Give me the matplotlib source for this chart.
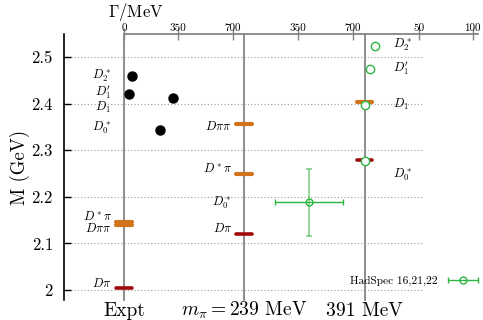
import numpy as np
import matplotlib
matplotlib.use("Agg")
import matplotlib.pyplot as plt
from matplotlib.legend_handler import HandlerErrorbar

plt.rcParams['font.family'] = 'serif'
plt.rcParams['font.serif'] = ['cmr10']
plt.rcParams['mathtext.fontset'] = 'cm'
plt.rcParams['axes.formatter.use_mathtext'] = True

# experiment: widths (MeV) and masses (GeV)
expt_names = ['D2*', 'D1(2420)', 'D1(2430)', 'D0*']
expt_width = [49, 32, 313, 229]
expt_mass = [2.460, 2.421, 2.411, 2.343]

# thresholds (GeV) per panel: (mass, kind)
thr_expt = [(2.004, 'dpi'), (2.140, 'dstpi'), (2.145, 'dstpi')]
thr_239 = [(2.1195, 'dpi'), (2.248, 'dstpi'), (2.357, 'dstpi')]
thr_391 = [(2.278, 'dpi'), (2.403, 'dstpi')]

# mpi = 239 MeV, D0* pole
d0_239_width = 420
d0_239_width_err = 220
d0_239_mass = 2.188
d0_239_mass_err = 0.072

# mpi = 391 MeV, bound states
l391_width = [10, 5.5, 0, 0]
l391_mass = [2.5236, 2.474, 2.397, 2.2768]

yticks = [2.0, 2.1, 2.2, 2.3, 2.4, 2.5]
ytick_labels = ['2', '2.1', '2.2', '2.3', '2.4', '2.5']

ORANGE = '#d2721a'
DARKRED = '#a00a0a'
GREEN = '#2db53f'
GRAY = '#858585'

W, H = 483, 320


def px(x0, y0, x1, y1):
    return [x0 / W, 1 - y1 / H, (x1 - x0) / W, (y1 - y0) / H]


fig = plt.figure(figsize=(W / 100, H / 100), dpi=100)
ylim = (2.0 - 10 / 466, 2.5 + 23 / 466)

main = fig.add_axes(px(64, 34, 423, 300))
main.set_ylim(*ylim)
main.set_xlim(0, 1)
for s in ['top', 'right', 'bottom']:
    main.spines[s].set_visible(False)
main.spines['left'].set_linewidth(1.2)
main.set_xticks([])
main.set_yticks(yticks)
main.set_yticklabels(ytick_labels)
main.tick_params(axis='y', direction='in', length=5, width=1, labelsize=12, pad=8)
main.yaxis.grid(True, ls=(0, (1, 2)), color='#999999', lw=0.8)
main.set_ylabel('M (GeV)', fontsize=13.5, labelpad=1)

# panels: left px, width px, xmax (MeV), ticks
panels = [
    (124, 120, 120 / 54.3 * 350, [0, 350, 700]),
    (244, 120, 120 / 54.3 * 350, [350, 700]),
    (364.5, 113, 113 / 54 * 50, [50, 100]),
]
axs = []
for x0, w, xmax, ticks in panels:
    ax = fig.add_axes(px(x0, 34, x0 + w, 300))
    ax.patch.set_visible(False)
    ax.set_xlim(0, xmax)
    ax.set_ylim(*ylim)
    ax.yaxis.set_visible(False)
    for s in ['right', 'bottom']:
        ax.spines[s].set_visible(False)
    for s in ['left', 'top']:
        ax.spines[s].set_color(GRAY)
        ax.spines[s].set_linewidth(1.3)
    ax.xaxis.tick_top()
    ax.set_xticks(ticks)
    ax.set_xticklabels([str(t) for t in ticks])
    ax.tick_params(axis='x', direction='inout', length=8, width=1, color=GRAY,
                   labelsize=8, pad=-3)
    axs.append(ax)


def draw_thr(ax, thr, half):
    for m, kind in thr:
        col = DARKRED if kind == 'dpi' else ORANGE
        lw = 2.6 if kind == 'dpi' else 3.0
        ax.plot([-half, half], [m, m], color=col, lw=lw, solid_capstyle='round',
                clip_on=False, zorder=3)


draw_thr(axs[0], thr_expt, 52)
draw_thr(axs[1], thr_239, 52)
draw_thr(axs[2], thr_391, 7.4)

axs[0].plot(expt_width, expt_mass, 'o', color='black', ms=6.5, zorder=4, clip_on=False)

eb = axs[1].errorbar([d0_239_width], [d0_239_mass], xerr=[d0_239_width_err],
                     fmt='o', mfc='none', mec=GREEN, color=GREEN, ms=5, mew=1,
                     capsize=2.5, elinewidth=1, capthick=1, zorder=4,
                     label='HadSpec 16,21,22')
axs[1].errorbar([d0_239_width], [d0_239_mass], yerr=[d0_239_mass_err],
                fmt='none', color=GREEN, alpha=0.6, capsize=2.5, elinewidth=1.2,
                capthick=1.2, zorder=3)

axs[2].plot(l391_width, l391_mass, 'o', mfc='white', mec=GREEN, ms=6, mew=1,
            zorder=5, clip_on=False)

# labels
lfs = 9
def lab(ax, x, y, s, ha='right'):
    ax.text(x, y, s, ha=ha, va='center', fontsize=lfs, clip_on=False)

lab(axs[0], -83, 2.459, r'$D_2^*$')
lab(axs[0], -83, 2.425, r'$D_1^\prime$')
lab(axs[0], -83, 2.392, r'$D_1$')
lab(axs[0], -83, 2.348, r'$D_0^*$')
lab(axs[0], -78, 2.158, r'$D^*\pi$')
lab(axs[0], -80, 2.131, r'$D\pi\pi$')
lab(axs[0], -80, 2.015, r'$D\pi$')

lab(axs[1], -78, 2.350, r'$D\pi\pi$')
lab(axs[1], -78, 2.260, r'$D^*\pi$')
lab(axs[1], -85, 2.187, r'$D_0^*$')
lab(axs[1], -78, 2.131, r'$D\pi$')

lab(axs[2], 26.5, 2.526, r'$D_2^*$', ha='left')
lab(axs[2], 26.5, 2.476, r'$D_1^\prime$', ha='left')
lab(axs[2], 26.5, 2.399, r'$D_1$', ha='left')
lab(axs[2], 26.5, 2.247, r'$D_0^*$', ha='left')

for ax, s in zip(axs, ['Expt', r'$m_\pi = 239$ MeV', '391 MeV']):
    ax.text(0, -16 / 266, s, transform=ax.get_xaxis_transform(), ha='center',
            va='baseline', fontsize=14)

fig.text(136 / W, 1 - 12 / H, r'$\Gamma$/MeV', ha='center', va='center', fontsize=12)

fig.legend(handles=[eb], labels=['HadSpec 16,21,22'], loc='center right',
           bbox_to_anchor=(479 / W, 1 - 281 / H), frameon=False, markerfirst=False,
           fontsize=8.2, handlelength=2.8, handletextpad=0.8, borderpad=0,
           borderaxespad=0, handler_map={type(eb): HandlerErrorbar(xerr_size=1.3)})

fig.savefig('out.png', dpi=100)
